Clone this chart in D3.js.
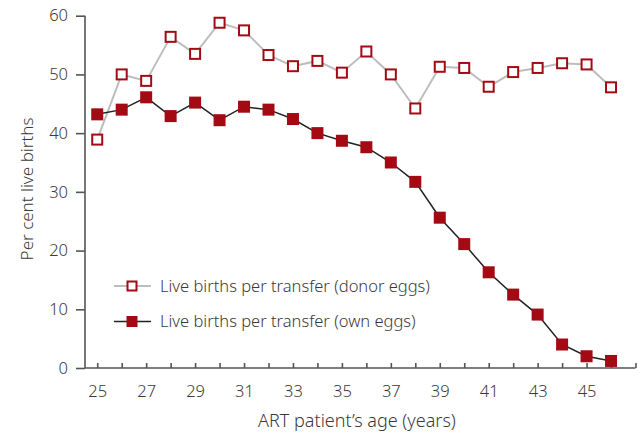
<!DOCTYPE html>
<html>
<head>
<meta charset="utf-8">
<script src="https://cdn.jsdelivr.net/npm/d3@7"></script>
<style>
  body { margin: 0; background: #fff; }
  svg text { font-family: "Noto Sans", "Open Sans", sans-serif; font-weight: 300; fill: #3a3a3a; }
</style>
</head>
<body>
<div class="chart"></div>
<script>
// Data
var ages = [25, 26, 27, 28, 29, 30, 31, 32, 33, 34, 35, 36, 37, 38, 39, 40, 41, 42, 43, 44, 45, 46];
var donorEggs = [38.9, 50.0, 48.9, 56.4, 53.5, 58.8, 57.5, 53.3, 51.4, 52.3, 50.3, 53.9, 50.0, 44.2, 51.3, 51.1, 47.9, 50.4, 51.1, 51.9, 51.7, 47.8];
var ownEggs = [43.2, 44.0, 46.1, 42.9, 45.2, 42.2, 44.5, 44.0, 42.4, 40.0, 38.7, 37.6, 35.0, 31.7, 25.6, 21.1, 16.3, 12.5, 9.1, 4.0, 2.0, 1.2];
var yTicks = [0, 10, 20, 30, 40, 50, 60];
var xLabels = [25, 27, 29, 31, 33, 35, 37, 39, 41, 43, 45];
var seriesNames = ["Live births per transfer (donor eggs)", "Live births per transfer (own eggs)"];

// Configuration
var width = 637;
var height = 433;
var red = "#a30a14";

var svg = d3.select(".chart").append("svg")
    .attr("width", width)
    .attr("height", height);

var x = d3.scaleLinear().domain([24.5, 47]).range([85, 635.5]);
var y = d3.scaleLinear().domain([0, 60]).range([368, 15.7]);

// Y axis
var yAxis = svg.append("g")
    .attr("transform", "translate(85,0)")
    .call(d3.axisLeft(y).tickValues(yTicks).tickSize(9).tickPadding(8));
yAxis.selectAll("text").style("font-size", "16.5px");

// X axis, ticks point inward
var xAxis = svg.append("g")
    .attr("transform", "translate(0,368)")
    .call(d3.axisBottom(x).tickValues(d3.range(25, 48)).tickSize(-5).tickFormat(function(d) {
        return xLabels.indexOf(d) >= 0 ? d : "";
    }).tickPadding(17));
xAxis.selectAll("text").style("font-size", "16.5px");

svg.selectAll(".domain, .tick line")
    .attr("stroke", "#555")
    .attr("stroke-width", 1.6);
yAxis.select(".domain").attr("d", "M0," + y(60) + "V" + y(0));
xAxis.select(".domain").attr("d", "M" + x(24.5) + ",0H" + x(47));

// Axis titles
svg.append("text")
    .attr("x", 357)
    .attr("y", 427)
    .attr("text-anchor", "middle")
    .style("font-size", "18px")
    .text("ART patient\u2019s age (years)");

svg.append("text")
    .attr("transform", "translate(33,189) rotate(-90)")
    .attr("text-anchor", "middle")
    .style("font-size", "17px")
    .text("Per cent live births");

// Lines
var line = d3.line()
    .x(function(d, i) { return x(ages[i]); })
    .y(function(d) { return y(d); });

svg.append("path")
    .datum(donorEggs)
    .attr("fill", "none")
    .attr("stroke", "#bdbdbd")
    .attr("stroke-width", 2)
    .attr("d", line);

svg.append("path")
    .datum(ownEggs)
    .attr("fill", "none")
    .attr("stroke", "#222")
    .attr("stroke-width", 1.5)
    .attr("d", line);

// Markers
svg.selectAll("rect.donor")
    .data(donorEggs)
    .enter().append("rect")
    .attr("class", "donor")
    .attr("x", function(d, i) { return x(ages[i]) - 5; })
    .attr("y", function(d) { return y(d) - 5; })
    .attr("width", 10)
    .attr("height", 10)
    .attr("fill", "#fff")
    .attr("stroke", red)
    .attr("stroke-width", 2);

svg.selectAll("rect.own")
    .data(ownEggs)
    .enter().append("rect")
    .attr("class", "own")
    .attr("x", function(d, i) { return x(ages[i]) - 6; })
    .attr("y", function(d) { return y(d) - 6; })
    .attr("width", 12)
    .attr("height", 12)
    .attr("fill", red);

// Legend
var legend = svg.selectAll("g.legend")
    .data(seriesNames)
    .enter().append("g")
    .attr("class", "legend")
    .attr("transform", function(d, i) { return "translate(114," + (286 + i * 35.5) + ")"; });

legend.append("line")
    .attr("x1", 0).attr("x2", 37)
    .attr("stroke", function(d, i) { return i == 0 ? "#bdbdbd" : "#222"; })
    .attr("stroke-width", function(d, i) { return i == 0 ? 2 : 1.5; });

legend.append("rect")
    .attr("x", function(d, i) { return i == 0 ? 13.5 : 12.5; })
    .attr("y", function(d, i) { return i == 0 ? -4.5 : -5.5; })
    .attr("width", function(d, i) { return i == 0 ? 9 : 11; })
    .attr("height", function(d, i) { return i == 0 ? 9 : 11; })
    .attr("fill", function(d, i) { return i == 0 ? "#fff" : red; })
    .attr("stroke", function(d, i) { return i == 0 ? red : "none"; })
    .attr("stroke-width", 2);

legend.append("text")
    .attr("x", 46)
    .attr("dy", "0.35em")
    .style("font-size", "16.5px")
    .text(function(d) { return d; });
</script>
</body>
</html>
